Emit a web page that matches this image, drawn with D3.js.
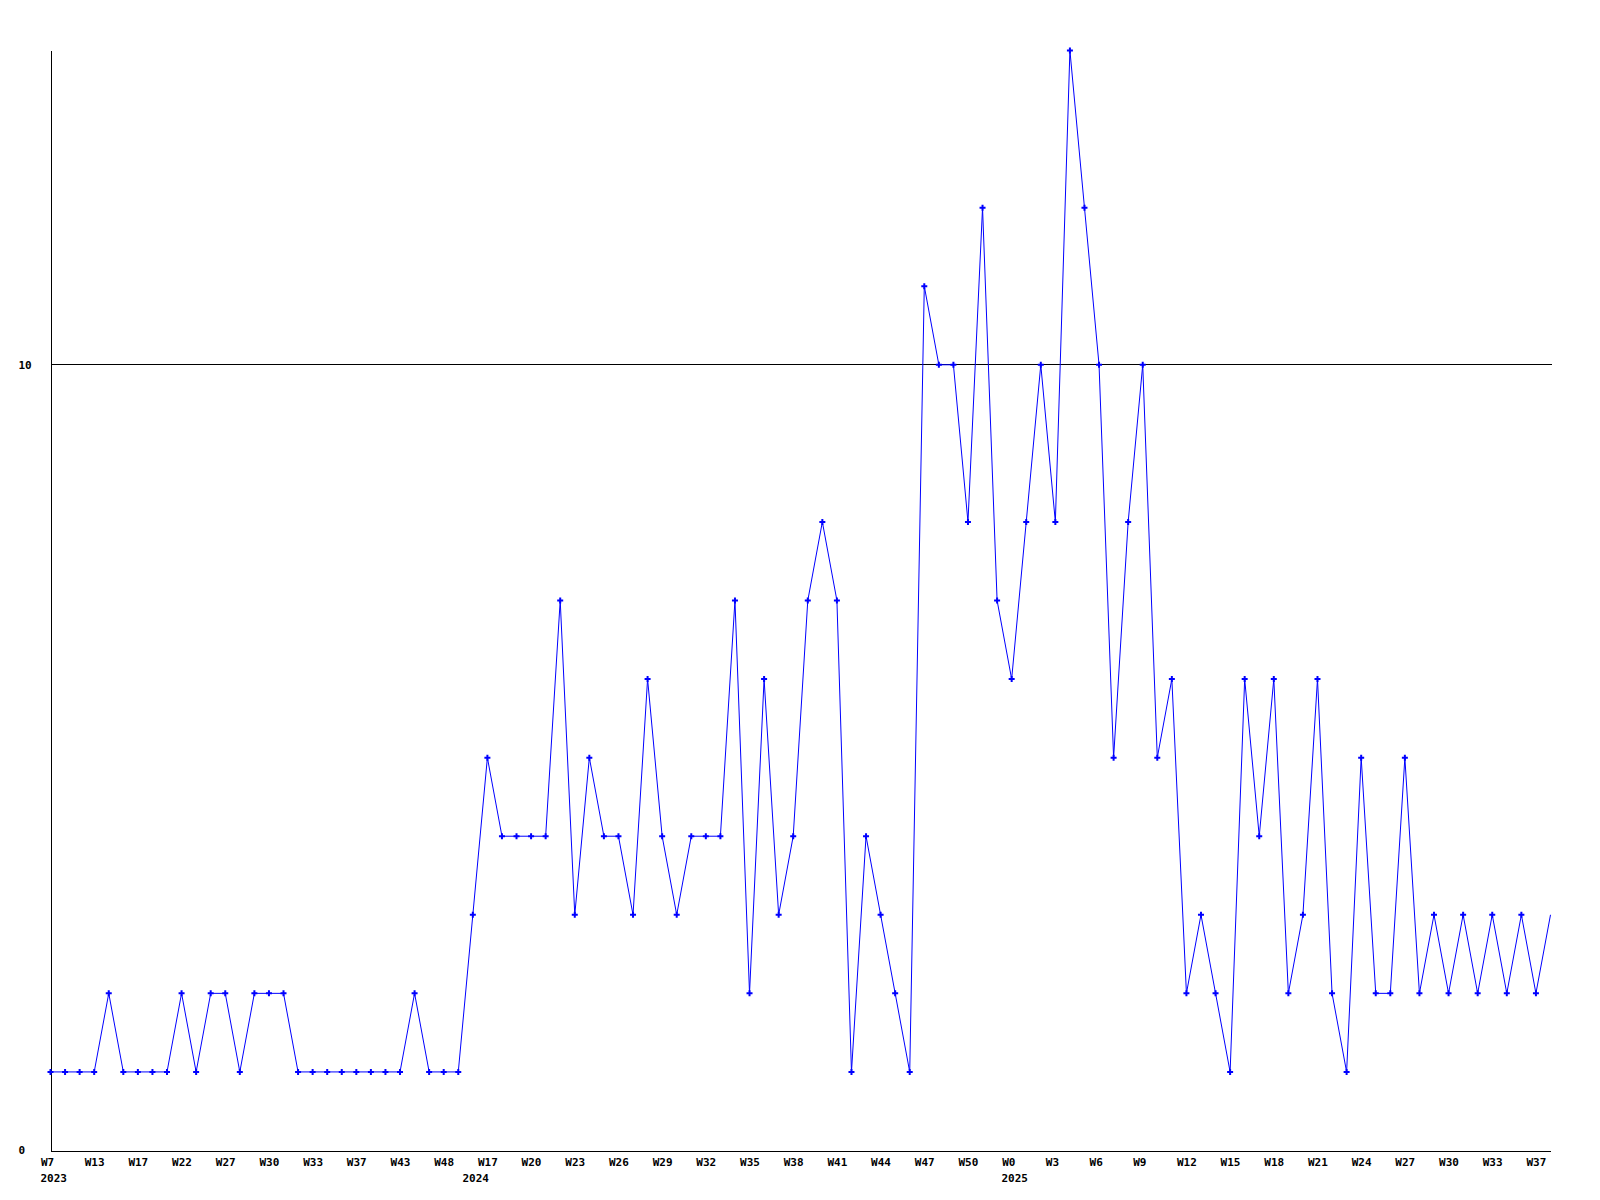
<!DOCTYPE html>
<html>
<head>
<meta charset="utf-8">
<script src="https://cdn.jsdelivr.net/npm/d3@7"></script>
<style>
  html, body { margin: 0; padding: 0; background: #fff; }
  svg { display: block; }
  .lbl { font-family: "DejaVu Sans Mono", "Liberation Mono", monospace; font-weight: bold; font-size: 11px; fill: #000; }
</style>
</head>
<body>
<svg id="chart" width="1600" height="1200"></svg>
<script>
// Weekly values, one per point (index order)
const values = [
  1, 1, 1, 1, 2, 1, 1, 1, 1, 2,
  1, 2, 2, 1, 2, 2, 2, 1, 1, 1,
  1, 1, 1, 1, 1, 2, 1, 1, 1, 3,
  5, 4, 4, 4, 4, 7, 3, 5, 4, 4,
  3, 6, 4, 3, 4, 4, 4, 7, 2, 6,
  3, 4, 7, 8, 7, 1, 4, 3, 2, 1,
  11, 10, 10, 8, 12, 7, 6, 8, 10, 8,
  14, 12, 10, 5, 8, 10, 5, 6, 2, 3,
  2, 1, 6, 4, 6, 2, 3, 6, 2, 1,
  5, 2, 2, 5, 2, 3, 2, 3, 2, 3,
  2, 3, 2, 3
];

// Week tick labels, placed on every third point
const weekLabels = [
  "W7", "W13", "W17", "W22", "W27", "W30", "W33", "W37", "W43", "W48",
  "W17", "W20", "W23", "W26", "W29", "W32", "W35", "W38", "W41", "W44",
  "W47", "W50", "W0", "W3", "W6", "W9", "W12", "W15", "W18", "W21",
  "W24", "W27", "W30", "W33", "W37"
];
const weekLabelStep = 3;

// Year labels and the point index where each year starts
const yearLabels = ["2023", "2024", "2025"];
const yearStartIndex = [0, 29, 66];

// Y axis
const yMax = 14;
const yTicks = [0, 10];
const gridValues = [10];

const svg = d3.select("#chart");
const g = svg.append("g").attr("transform", "translate(0.5,0.5)");

const x = d3.scaleLinear().domain([0, values.length - 1]).range([50, 1550]);
const y = d3.scaleLinear().domain([0, yMax]).range([1150, 50]);

// gridline(s)
g.selectAll("line.grid").data(gridValues).enter().append("line")
  .attr("class", "grid")
  .attr("x1", x(0)).attr("x2", x(values.length - 1) + 1)
  .attr("y1", d => Math.round(y(d))).attr("y2", d => Math.round(y(d)))
  .attr("stroke", "#000").attr("stroke-width", 1).attr("shape-rendering", "crispEdges");

// X axis
const tickIdx = weekLabels.map((_, i) => i * weekLabelStep);
const xAxis = d3.axisBottom(x)
  .tickValues(tickIdx)
  .tickSize(0)
  .tickSizeOuter(0)
  .tickFormat((d, i) => weekLabels[i]);
const xg = g.append("g").attr("transform", `translate(0,${Math.round(y(0))})`).call(xAxis);
xg.select(".domain").attr("stroke", "#000").attr("shape-rendering", "crispEdges");
xg.selectAll(".tick text")
  .attr("class", "lbl")
  .attr("text-anchor", "start")
  .attr("x", -10)
  .attr("y", 15)
  .attr("dy", null);
xg.attr("font-family", null).attr("font-size", null);

// Year labels
g.selectAll("text.year").data(yearLabels).enter().append("text")
  .attr("class", "lbl year")
  .attr("text-anchor", "start")
  .attr("x", (d, i) => Math.round(x(yearStartIndex[i])) - 10)
  .attr("y", Math.round(y(0)) + 31)
  .text(d => d);

// Y axis
const yAxis = d3.axisLeft(y).tickValues(yTicks).tickSize(0).tickSizeOuter(0).tickFormat(d3.format("d"));
const yg = g.append("g").attr("transform", `translate(${x(0)},0)`).call(yAxis);
yg.select(".domain").attr("stroke", "#000").attr("shape-rendering", "crispEdges");
yg.attr("font-family", null).attr("font-size", null);
yg.selectAll(".tick text")
  .attr("class", "lbl")
  .attr("text-anchor", "start")
  .attr("x", 18 - x(0))
  .attr("dy", "0.3em");

// Data line
const line = d3.line().x((d, i) => x(i)).y(d => y(d));
g.append("path")
  .datum(values)
  .attr("fill", "none")
  .attr("stroke", "#0000ff")
  .attr("stroke-width", 1)
  .attr("d", line);

// Markers (the final point is drawn without a marker)
g.selectAll("path.mk").data(values.slice(0, values.length - 1)).enter().append("path")
  .attr("class", "mk")
  .attr("transform", (d, i) => `translate(${x(i)},${y(d)})`)
  .attr("d", d3.symbol(d3.symbolCross, 20))
  .attr("fill", "#0000ff");
</script>
</body>
</html>
